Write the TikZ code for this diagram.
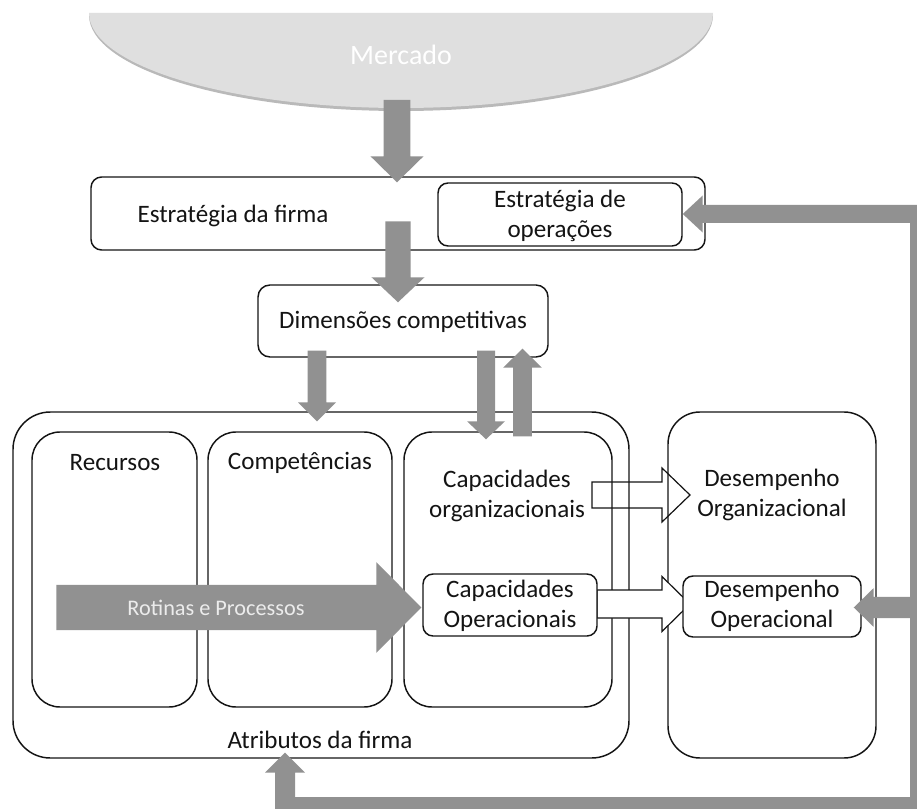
\documentclass[tikz,border=0pt]{standalone}
\usepackage{fontspec}
\setmainfont{Carlito}
\usetikzlibrary{calc,fit}

\definecolor{arrowgray}{RGB}{145,145,145}
\definecolor{mercfill}{RGB}{223,223,223}
\definecolor{mercshade}{RGB}{185,185,185}
\definecolor{lighttext}{RGB}{236,236,236}
\definecolor{ink}{RGB}{20,20,20}

% Block arrow: [style] {from} {tip} {shaft half width} {head half width} {head length}
\newcommand{\blockarrow}[6][fill=arrowgray]{%
  \coordinate (abase) at ($(#3)!#6!(#2)$);
  \path[#1] ($(#2)!#4!90:(#3)$) -- ($(abase)!#4!90:(#3)$) -- ($(abase)!#5!90:(#3)$)
    -- (#3) -- ($(abase)!#5!-90:(#3)$) -- ($(abase)!#4!-90:(#3)$)
    -- ($(#2)!#4!-90:(#3)$) -- cycle;
}

\tikzset{
  box/.style={draw=ink, line width=1.1pt, rounded corners=#1, inner sep=0pt},
  box/.default=7.5pt,
  lbl/.style={font=\fontsize{18.8}{22.5}\selectfont, text=ink, align=center, inner sep=0pt},
  loopline/.style={draw=arrowgray, line width=15pt, line join=miter},
  hollow/.style={fill=white, draw=ink, line width=0.9pt, line join=miter},
}

\begin{document}
\begin{tikzpicture}[x=0.75pt, y=-0.75pt]
\useasboundingbox (0,0) rectangle (917,809);
\clip (0,0) rectangle (917,809);
\fill[white] (0,0) rectangle (917,809);

% Mercado: half ellipse hanging from the top edge, with a soft lower rim
\fill[mercshade] (89,15) arc[start angle=180, end angle=0, x radius=312, y radius=96] -- cycle;
\fill[mercfill] (89,13) arc[start angle=180, end angle=0, x radius=312, y radius=95] -- cycle;
\node[font=\fontsize{21}{25}\selectfont, text=white, inner sep=0pt] (merc) at (401,55) {Mercado};

% firm strategy and competitive dimensions
\node[box=8pt, fit={(91,177)(705,250)}] (estr) {};
\node[box=7.5pt, fit={(438,183)(682,246)}] (estrop) {};
\node[box=9pt, fit={(258,285)(548,357)}] (dim) {};

% outgoing hollow arrows (drawn beneath the box outlines)
\blockarrow[hollow]{$(612,569.5)+(-20,-74.5)$}{$(668,585)+(22,-90)$}{9.75pt}{20.25pt}{21pt}

% firm attributes and performance
\node[box=28pt, fit={(13,412)(629,758)}] (atrib) {};
\node[box=21pt, fit={(32,432)(197,707)}] (rec) {};
\node[box=21pt, fit={(208,432)(392,707)}] (comp) {};
\node[box=21pt, fit={(404,432)(612,707)}] (cap) {};
\node[box=24pt, fit={(668,412)(876,758)}] (des) {};

\coordinate (w2s) at ($(597,605)+(0,-1)$);
\coordinate (w2t) at (690,604);
\blockarrow[hollow]{w2s}{w2t}{10.5pt}{20.6pt}{21pt}

\node[box=7.5pt, fill=white, fit={(423,574)(597,636)}] (capop) {};
\node[box=7.5pt, fill=white, fit={(683,576)(861,637)}] (desop) {};

% labels
\node[lbl] (tEstr) at (233,216) {Estratégia da firma};
\node[lbl] (tEstrop) at (560,216) {Estratégia de\\operações};
\node[lbl] (tDim) at (403,322) {Dimensões competitivas};
\node[lbl] (tRec) at (115,463) {Recursos};
\node[lbl] (tComp) at (300,463) {Competências};
\node[lbl] (tCap) at (507,496) {Capacidades\\organizacionais};
\node[lbl] (tCapop) at (510,606) {Capacidades\\Operacionais};
\node[lbl] (tDes) at (772,495) {Desempenho\\Organizacional};
\node[lbl] (tDesop) at (772,606) {Desempenho\\Operacional};
\node[lbl] (tAtrib) at (320,740) {Atributos da firma};

% gray flow arrows
\coordinate (a1s) at ($(merc)+(-4,45)$);
\coordinate (a1t) at ($(estr.north)+(-1,6)$);
\blockarrow{a1s}{a1t}{10.1pt}{19.9pt}{19.5pt}

\coordinate (a2s) at ($(estr.north)+(0,45)$);
\coordinate (a2t) at ($(dim.north)+(-5,18)$);
\blockarrow{a2s}{a2t}{9.4pt}{19.9pt}{18.75pt}

\coordinate (a3s) at ($(dim.south)+(-86,-7)$);
\coordinate (a3t) at ($(comp.north)+(17,-10)$);
\blockarrow{a3s}{a3t}{7.1pt}{14.25pt}{14.25pt}

\coordinate (a4s) at ($(dim.south)+(83,-7)$);
\coordinate (a4t) at ($(cap.north)+(-22,8)$);
\blockarrow{a4s}{a4t}{6.75pt}{14.25pt}{13.5pt}

\coordinate (a5s) at ($(cap.north)+(14.5,5)$);
\coordinate (a5t) at ($(dim.south)+(119.5,-9)$);
\blockarrow{a5s}{a5t}{7.1pt}{14.6pt}{14.25pt}

% routines and processes
\coordinate (rps) at ($(rec.west)+(25,38)$);
\coordinate (rpt) at ($(capop.west)+(-1,2.5)$);
\blockarrow{rps}{rpt}{16.9pt}{34.1pt}{33.75pt}
\node[font=\fontsize{16.7}{20}\selectfont, text=lighttext, inner sep=0pt] (tRot) at (216,608) {Rotinas e Processos};

% feedback loop
\coordinate (lpTop) at (920,214);
\coordinate (lpCorner) at (920,807);
\coordinate (lpEnd) at (275,807);
\draw[loopline] (lpTop) -- (lpCorner) -- (lpEnd);

\coordinate (a6s) at (930,214);
\coordinate (a6t) at ($(estrop.east)+(0,-0.5)$);
\blockarrow{a6s}{a6t}{6.75pt}{13.9pt}{15pt}

\coordinate (a7s) at (930,607.5);
\coordinate (a7t) at ($(desop.east)+(-8,1)$);
\blockarrow{a7s}{a7t}{7.9pt}{14.6pt}{15pt}

\coordinate (a8s) at (285,817);
\coordinate (a8t) at ($(atrib.south)+(-36,-6)$);
\blockarrow{a8s}{a8t}{7.5pt}{15pt}{15pt}
\end{tikzpicture}
\end{document}
